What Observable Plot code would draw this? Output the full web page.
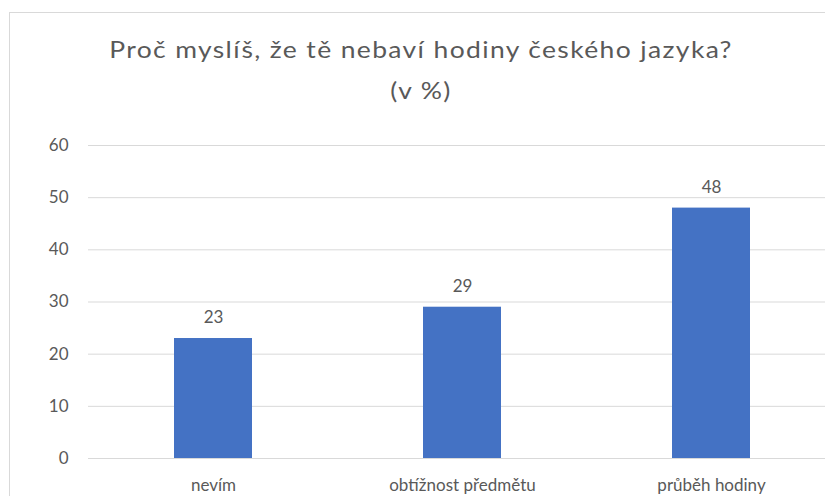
<!DOCTYPE html>
<html>
<head>
<meta charset="utf-8">
<script src="https://cdn.jsdelivr.net/npm/d3@7"></script>
<script src="https://cdn.jsdelivr.net/npm/@observablehq/plot@0.6"></script>
<style>
  html, body { margin: 0; padding: 0; width: 825px; height: 496px; overflow: hidden; background: #fff; }
  #frame { position: absolute; left: 9px; top: 12px; width: 900px; height: 600px; border: 1px solid #d9d9d9; box-sizing: border-box; }
  #title { position: absolute; left: 0; width: 842px; top: 29px; text-align: center; font-family: Lato, sans-serif; font-size: 23px; line-height: 41px; color: #595959; letter-spacing: 1.2px; transform: scaleX(1.15); transform-origin: 421px 0; }
  #chart { position: absolute; left: 0; top: 0; width: 850px; }
  #chart svg { max-width: none; overflow: visible; }
</style>
</head>
<body>
<div id="frame"></div>
<div id="title">Proč myslíš, že tě nebaví hodiny českého jazyka?<br>(v %)</div>
<div id="chart"></div>
<script>
const categories = ["nevím", "obtížnost předmětu", "průběh hodiny"];
const values = [23, 29, 48];
const yTicks = [0, 10, 20, 30, 40, 50, 60];

const data = categories.map((c, i) => ({category: c, value: values[i]}));

const chart = Plot.plot({
  width: 850,
  height: 496,
  marginLeft: 88,
  marginRight: 14,
  marginTop: 145,
  marginBottom: 38,
  style: {fontFamily: "Lato, sans-serif", fontSize: "17px", color: "#595959", background: "transparent"},
  x: {domain: categories, paddingInner: 0.687, paddingOuter: 0.345, label: null},
  y: {domain: [0, 60], label: null},
  marks: [
    Plot.ruleY(yTicks, {stroke: "#d9d9d9", strokeWidth: 1}),
    Plot.barY(data, {x: "category", y: "value", fill: "#4472C4"}),
    Plot.text(data, {x: "category", y: "value", text: d => String(d.value), dy: -21, fill: "#595959", fontSize: 17}),
    Plot.axisX({tickSize: 0, tickPadding: 20, fill: "#595959", fontSize: 17}),
    Plot.axisY({ticks: yTicks, tickSize: 0, tickPadding: 20, fill: "#595959", fontSize: 17})
  ]
});
document.getElementById("chart").appendChild(chart);
</script>
</body>
</html>
